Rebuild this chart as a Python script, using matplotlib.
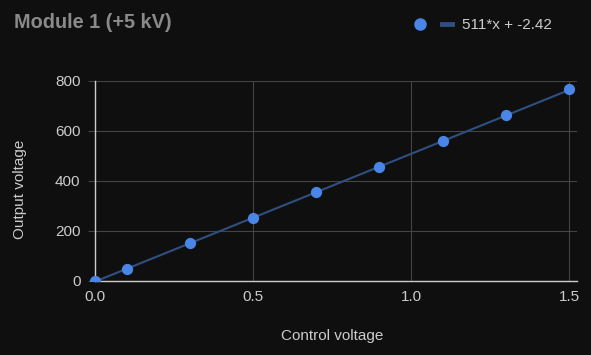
import numpy as np
import matplotlib.pyplot as plt
from matplotlib.lines import Line2D
from matplotlib.patches import Rectangle

plt.rcParams["font.family"] = ["Liberation Sans", "DejaVu Sans"]

control_v = [0.0, 0.1, 0.3, 0.5, 0.7, 0.9, 1.1, 1.3, 1.5]
output_v = [0, 49, 152, 253, 355, 457, 560, 662, 766]
slope, intercept = 511, -2.42
fit_label = "511*x + -2.42"

bg = "#0f0f0f"
fig = plt.figure(figsize=(5.91, 3.55), dpi=100, facecolor=bg)
ax = fig.add_axes([95 / 591, 1 - 281 / 355, (577 - 95) / 591, 200 / 355])
ax.set_facecolor(bg)

xs = np.array([0.0, 1.5])
ax.plot(xs, slope * xs + intercept, color="#2f4f80", linewidth=1.5, zorder=2)
pts = ax.scatter(control_v, output_v, s=50, color="#4a86e8", zorder=3)
# clip only below the x axis, like the original
clip = Rectangle((-0.05, 0), 1.1, 1.1, transform=ax.transAxes, visible=False)
ax.add_patch(clip)
pts.set_clip_path(clip)

ax.set_xlim(0, 1.525)
ax.set_ylim(0, 800)
ax.set_xticks([0.0, 0.5, 1.0, 1.5])
ax.set_xticklabels(["0.0", "0.5", "1.0", "1.5"])
ax.set_yticks([0, 200, 400, 600, 800])

ax.grid(True, color="#444444", linewidth=0.8)
for s in ["top", "right"]:
    ax.spines[s].set_visible(False)
for s in ["left", "bottom"]:
    ax.spines[s].set_color("#cccccc")
    ax.spines[s].set_linewidth(1.0)
ax.tick_params(axis="y", colors="#444444", length=5, width=0.8, labelcolor="#cccccc", labelsize=11, pad=5.5)
ax.tick_params(axis="x", length=0, labelcolor="#cccccc", labelsize=11, pad=6.5)

ax.set_xlabel("Control voltage", color="#cccccc", fontsize=11)
ax.set_ylabel("Output voltage", color="#cccccc", fontsize=11)
ax.xaxis.set_label_coords(0.492, -0.275)
ax.yaxis.set_label_coords(-0.156, 0.46)
ax.xaxis.label.set_va("center")
ax.yaxis.label.set_va("center")

fig.text(14 / 591, 1 - 22 / 355, "Module 1 (+5 kV)", color="#8a8a8a",
         fontsize=14.3, fontweight="bold", va="center")

handles = [
    Line2D([], [], marker="o", linestyle="none", color="#4a86e8", markersize=8),
    Line2D([], [], color="#2f4f80", linewidth=3.5),
]
fig.legend(handles, ["", fit_label], loc="center left", bbox_to_anchor=(415 / 591, 1 - 25 / 355),
           ncol=2, frameon=False, handlelength=0.7, handletextpad=0.65, columnspacing=0.4,
           borderpad=0, borderaxespad=0, labelcolor="#cccccc", fontsize=11)

fig.savefig("out.png", dpi=100, facecolor=bg)
